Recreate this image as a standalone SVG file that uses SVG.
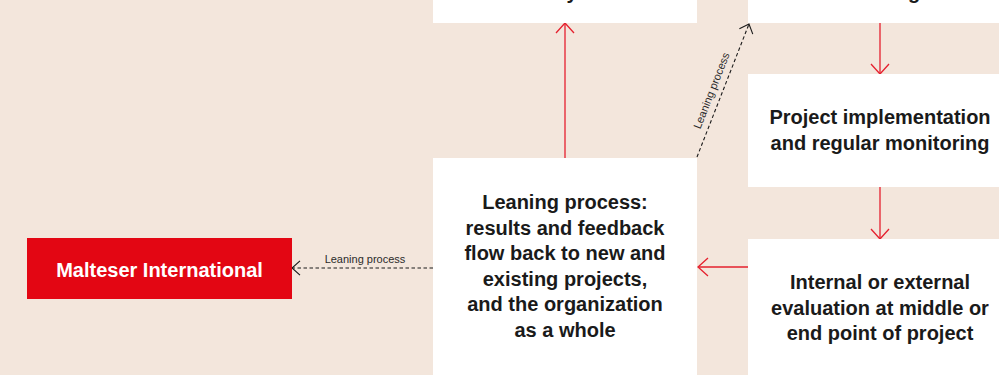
<svg xmlns="http://www.w3.org/2000/svg" width="999" height="375" viewBox="0 0 999 375">
<defs>
<style>
.box{fill:#ffffff}
.t{font-family:"Liberation Sans",Arial,sans-serif;font-weight:bold;font-size:20px;fill:#1a1a1a;text-anchor:middle}
.tw{fill:#ffffff}
.lbl{font-family:"Liberation Sans",Arial,sans-serif;font-size:11px;fill:#2a2a2a;text-anchor:middle}
.red{stroke:#e5202e;stroke-width:1.3;fill:none}
.dash{stroke:#1a1a1a;stroke-width:1.1;fill:none;stroke-dasharray:3.5 2.5}
</style>
<marker id="ar" viewBox="0 0 12 20" refX="11" refY="10" markerWidth="12" markerHeight="20" markerUnits="userSpaceOnUse" orient="auto">
<path d="M1 1 L11 10 L1 19" fill="none" stroke="#e5202e" stroke-width="1.3"/>
</marker>
<marker id="ak" viewBox="0 0 12 20" refX="11" refY="10" markerWidth="10" markerHeight="16" markerUnits="userSpaceOnUse" orient="auto">
<path d="M1 1 L11 10 L1 19" fill="none" stroke="#1a1a1a" stroke-width="1.4"/>
</marker>
</defs>
<rect x="0" y="0" width="999" height="375" fill="#f3e6dc"/>

<g id="connectors">
<line class="red" x1="565" y1="158" x2="565" y2="23" marker-end="url(#ar)"/>
<line class="red" x1="880" y1="23" x2="880" y2="74" marker-end="url(#ar)"/>
<line class="red" x1="880" y1="187" x2="880" y2="239" marker-end="url(#ar)"/>
<line class="red" x1="748" y1="267" x2="698" y2="267" marker-end="url(#ar)"/>
<line class="dash" x1="433" y1="268" x2="292" y2="268" marker-end="url(#ak)"/>
<text class="lbl" x="365" y="263">Leaning process</text>
<line class="dash" x1="697" y1="157" x2="749" y2="24" marker-end="url(#ak)"/>
<text class="lbl" transform="translate(715,92) rotate(-68.6)">Leaning process</text>
</g>

<g id="node-top-left">
<rect class="box" x="433" y="-10" width="264" height="33"/>
<text class="t" x="572" y="-1">y</text>
</g>

<g id="node-top-right">
<rect class="box" x="748" y="-10" width="264" height="33"/>
<text class="t" x="914" y="-1">g</text>
</g>

<g id="node-implementation">
<rect class="box" x="748" y="74" width="264" height="113"/>
<text class="t" x="880" y="124">Project implementation</text>
<text class="t" x="880" y="150">and regular monitoring</text>
</g>

<g id="node-evaluation">
<rect class="box" x="748" y="239" width="264" height="146"/>
<text class="t" x="880" y="289">Internal or external</text>
<text class="t" x="880" y="314.5">evaluation at middle or</text>
<text class="t" x="880" y="340">end point of project</text>
</g>

<g id="node-learning">
<rect class="box" x="433" y="158" width="264" height="227"/>
<text class="t" x="565" y="209">Leaning process:</text>
<text class="t" x="565" y="234.6">results and feedback</text>
<text class="t" x="565" y="260.2">flow back to new and</text>
<text class="t" x="565" y="285.8">existing projects,</text>
<text class="t" x="565" y="311.4">and the organization</text>
<text class="t" x="565" y="337">as a whole</text>
</g>

<g id="node-malteser">
<rect x="27" y="238" width="265" height="61" fill="#e30613"/>
<text class="t tw" x="159.5" y="277">Malteser International</text>
</g>
</svg>
